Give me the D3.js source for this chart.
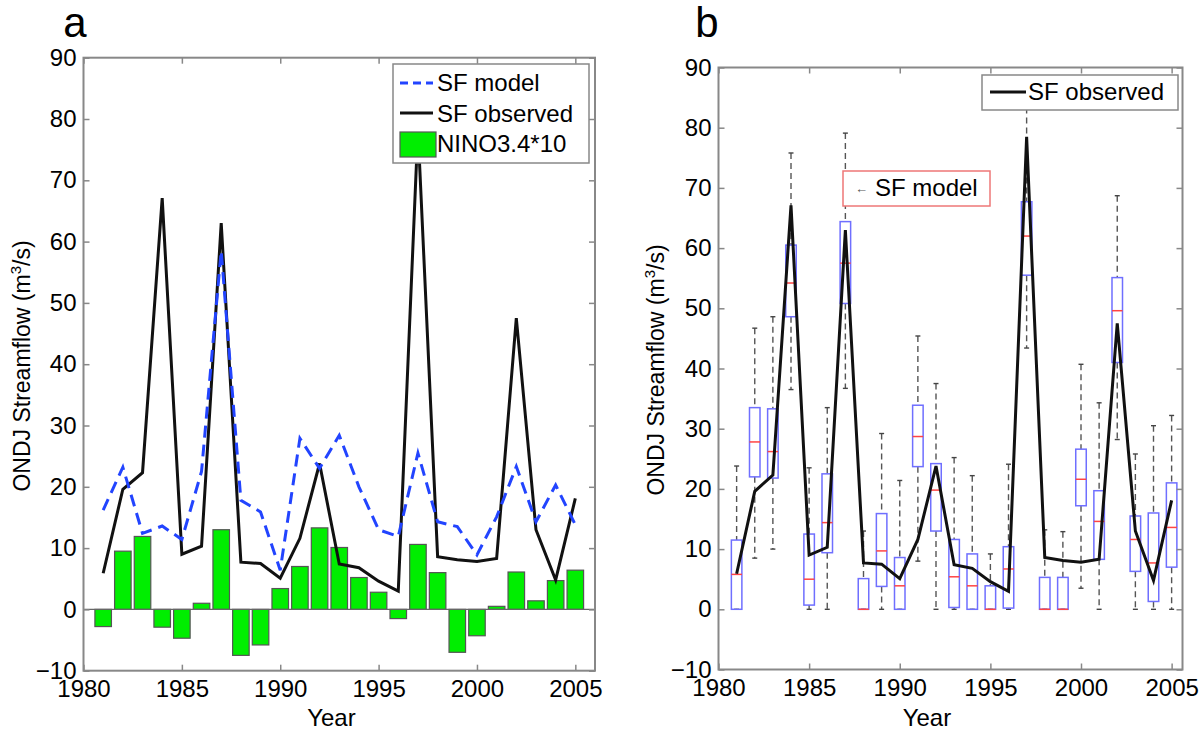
<!DOCTYPE html>
<html><head><meta charset="utf-8">
<script src="https://cdn.jsdelivr.net/npm/d3@7"></script>
<style>body{margin:0;background:#fff}svg{display:block;font-family:"Liberation Sans",Arial,Helvetica,sans-serif}</style>
</head><body><svg id="c" width="1200" height="734"></svg>
<script>
// ---------------- data ----------------
const years = [1981,1982,1983,1984,1985,1986,1987,1988,1989,1990,1991,1992,1993,1994,1995,1996,1997,1998,1999,2000,2001,2002,2003,2004,2005];
const sfObserved = [5.9,19.6,22.3,67.1,9.0,10.3,63.0,7.7,7.5,5.1,11.6,23.8,7.4,6.8,4.6,3.0,78.5,8.6,8.1,7.8,8.3,47.5,13.0,4.8,18.1];
const sfModel    = [16.2,23.2,12.4,13.6,11.4,22.5,58.5,17.8,15.9,6.4,27.9,23.0,28.4,20.0,13.0,11.9,25.5,14.3,13.5,8.9,15.1,23.3,14.3,20.3,13.8];
const nino34x10  = [-2.8,9.5,11.9,-2.9,-4.7,1.0,13.0,-7.5,-5.8,3.4,7.0,13.3,10.1,5.2,2.8,-1.5,10.6,6.0,-7.0,-4.3,0.5,6.1,1.4,4.7,6.4];
// panel b ensemble boxplots (SF model)
const boxQ1      = [0,22.0,21.8,48.6,0.7,9.4,50.8,0,3.8,0,23.7,13.0,0.3,0,0,0.2,55.5,0,0,17.2,8.3,41.0,6.3,1.3,7.0];
const boxMedian  = [5.8,27.8,26.2,54.2,5.0,14.4,57.5,0,9.7,3.9,28.7,19.8,5.4,3.9,0,6.7,62.0,0,0,21.6,14.6,49.6,11.6,7.7,13.6];
const boxQ3      = [11.5,33.5,33.3,60.5,12.5,22.5,64.4,5.1,15.9,8.6,33.9,24.2,11.6,9.2,3.9,10.4,67.7,5.3,5.3,26.6,19.7,55.1,15.5,16.0,21.0];
const whiskerLow = [0,8.5,10.0,36.5,0,0,36.7,0,0,0,8.0,0,0,0,0,0,43.4,0,0,3.5,0,28.2,0,0,0];
const whiskerHigh= [23.8,46.7,48.6,75.8,23.5,33.5,79.1,13.0,29.2,21.4,45.4,37.5,25.2,22.2,9.2,24.1,85.0,13.2,12.9,40.7,34.3,68.7,25.8,30.5,32.2];
const yTicks = [-10,0,10,20,30,40,50,60,70,80,90];
const xTicks = [1980,1985,1990,1995,2000,2005];
const legendA = ["SF model","SF observed","NINO3.4*10"];
const legendB = ["SF observed"];
const annotationB = "SF model";

// ---------------- drawing ----------------
const svg = d3.select("#c");
const FONT = 24;
const AXIS_COLOR = "#888";

function frame(g, x, y, xl, yl) {
  const [x0, x1] = x.range(), [y0, y1] = y.range();
  g.append("g").attr("transform", `translate(0,${y0})`)
    .call(d3.axisBottom(x).tickValues(xl).tickSize(-6).tickPadding(9).tickFormat(d3.format("d")))
    .call(s => s.select(".domain").remove());
  g.append("g").attr("transform", `translate(0,${y1})`)
    .call(d3.axisTop(x).tickValues(xl).tickSize(-6).tickFormat(""))
    .call(s => s.select(".domain").remove());
  g.append("g").attr("transform", `translate(${x0},0)`)
    .call(d3.axisLeft(y).tickValues(yl).tickSize(-6).tickPadding(7).tickFormat(d3.format("d")))
    .call(s => s.select(".domain").remove());
  g.append("g").attr("transform", `translate(${x1},0)`)
    .call(d3.axisRight(y).tickValues(yl).tickSize(-6).tickFormat(""))
    .call(s => s.select(".domain").remove());
  g.selectAll(".tick line").attr("stroke", AXIS_COLOR).attr("stroke-width", 1.5);
  g.selectAll(".tick text").attr("fill", "#000").style("font-size", FONT + "px")
    .style("font-family", '"Liberation Sans",Arial,sans-serif');
  g.append("rect").attr("x", x0).attr("y", y1).attr("width", x1 - x0).attr("height", y0 - y1)
    .attr("fill", "none").attr("stroke", AXIS_COLOR).attr("stroke-width", 2);
}

function yTitle(g, cx, cy) {
  const t = g.append("text").attr("transform", `translate(${cx},${cy}) rotate(-90)`)
    .attr("text-anchor", "middle").style("font-size", "23px").attr("fill", "#000");
  t.append("tspan").text("ONDJ Streamflow (m");
  t.append("tspan").text("3").attr("dy", -9).style("font-size", "15px");
  t.append("tspan").text("/s)").attr("dy", 9);
}

// ===== Panel a =====
const ga = svg.append("g");
const xa = d3.scaleLinear([1980, 2006], [83.5, 595]);
const ya = d3.scaleLinear([-10, 90], [670.7, 57.7]);
const bw = (xa(1980.84) - xa(1980));

ga.append("g").selectAll("rect").data(years).join("rect")
  .attr("x", (d) => xa(d) - bw / 2)
  .attr("width", bw)
  .attr("y", (d, i) => ya(Math.max(0, nino34x10[i])))
  .attr("height", (d, i) => Math.abs(ya(nino34x10[i]) - ya(0)))
  .attr("fill", "#00ee00").attr("stroke", "#555").attr("stroke-width", 1.2);
ga.append("line").attr("x1", xa.range()[0]).attr("x2", xa.range()[1])
  .attr("y1", ya(0)).attr("y2", ya(0)).attr("stroke", "#666").attr("stroke-width", 1.2);

const lineA = (vals) => d3.line().x((d, i) => xa(years[i])).y(d => ya(d))(vals);
ga.append("path").attr("d", lineA(sfObserved)).attr("fill", "none")
  .attr("stroke", "#111").attr("stroke-width", 3).attr("stroke-linejoin", "miter");
ga.append("path").attr("d", lineA(sfModel)).attr("fill", "none")
  .attr("stroke", "#2244ff").attr("stroke-width", 3).attr("stroke-dasharray", "12,7");

frame(ga, xa, ya, xTicks, yTicks);

// legend a
const la = ga.append("g");
la.append("rect").attr("x", 393).attr("y", 64).attr("width", 196).attr("height", 99)
  .attr("fill", "#fff").attr("stroke", AXIS_COLOR).attr("stroke-width", 1.5);
la.append("line").attr("x1", 400).attr("x2", 433).attr("y1", 83).attr("y2", 83)
  .attr("stroke", "#2244ff").attr("stroke-width", 3).attr("stroke-dasharray", "8,5");
la.append("line").attr("x1", 400).attr("x2", 433).attr("y1", 113).attr("y2", 113)
  .attr("stroke", "#111").attr("stroke-width", 3);
la.append("rect").attr("x", 400).attr("y", 132).attr("width", 36).attr("height", 25)
  .attr("fill", "#00ee00").attr("stroke", "#555").attr("stroke-width", 1.2);
legendA.forEach((t, i) => la.append("text").attr("x", 437).attr("y", 83 + i * 30.5)
  .attr("dy", "0.35em").style("font-size", FONT + "px").text(t));

yTitle(ga, 30, 366);
ga.append("text").attr("x", xa(1992.6)).attr("y", 726).attr("text-anchor", "middle")
  .style("font-size", FONT + "px").text("Year");
ga.append("text").attr("x", 75).attr("y", 37).attr("text-anchor", "middle")
  .style("font-size", "42px").text("a");

// ===== Panel b =====
const gb = svg.append("g");
const xb = d3.scaleLinear([1980, 2005.6], [718.5, 1182.5]);
const yb = d3.scaleLinear([-10, 90], [669.5, 67.5]);
const boxW = xb(1980.58) - xb(1980);
const capW = 5;

const bx = gb.append("g").selectAll("g").data(years).join("g");
// whiskers
bx.append("line").attr("x1", d => xb(d)).attr("x2", d => xb(d))
  .attr("y1", (d, i) => yb(whiskerHigh[i])).attr("y2", (d, i) => yb(boxQ3[i]))
  .attr("stroke", "#555").attr("stroke-width", 1.4).attr("stroke-dasharray", "6,4");
bx.append("line").attr("x1", d => xb(d)).attr("x2", d => xb(d))
  .attr("y1", (d, i) => yb(boxQ1[i])).attr("y2", (d, i) => yb(whiskerLow[i]))
  .attr("stroke", "#555").attr("stroke-width", 1.4).attr("stroke-dasharray", "6,4");
bx.append("line").attr("x1", d => xb(d) - capW / 2).attr("x2", d => xb(d) + capW / 2)
  .attr("y1", (d, i) => yb(whiskerHigh[i])).attr("y2", (d, i) => yb(whiskerHigh[i]))
  .attr("stroke", "#444").attr("stroke-width", 1.4);
bx.append("line").attr("x1", d => xb(d) - capW / 2).attr("x2", d => xb(d) + capW / 2)
  .attr("y1", (d, i) => yb(whiskerLow[i])).attr("y2", (d, i) => yb(whiskerLow[i]))
  .attr("stroke", "#444").attr("stroke-width", 1.4);
// boxes
bx.append("rect").attr("x", d => xb(d) - boxW / 2).attr("width", boxW)
  .attr("y", (d, i) => yb(boxQ3[i])).attr("height", (d, i) => yb(boxQ1[i]) - yb(boxQ3[i]))
  .attr("fill", "none").attr("stroke", "#6f6fff").attr("stroke-width", 1.5);
bx.append("line").attr("x1", d => xb(d) - boxW / 2).attr("x2", d => xb(d) + boxW / 2)
  .attr("y1", (d, i) => yb(boxMedian[i])).attr("y2", (d, i) => yb(boxMedian[i]))
  .attr("stroke", "#ff4444").attr("stroke-width", 1.5);

const lineB = (vals) => d3.line().x((d, i) => xb(years[i])).y(d => yb(d))(vals);
gb.append("path").attr("d", lineB(sfObserved)).attr("fill", "none")
  .attr("stroke", "#111").attr("stroke-width", 3);

frame(gb, xb, yb, xTicks, yTicks);

// legend b
const lb = gb.append("g");
lb.append("rect").attr("x", 982).attr("y", 75).attr("width", 196).attr("height", 35)
  .attr("fill", "#fff").attr("stroke", AXIS_COLOR).attr("stroke-width", 1.5);
lb.append("line").attr("x1", 990).attr("x2", 1026).attr("y1", 92).attr("y2", 92)
  .attr("stroke", "#111").attr("stroke-width", 3);
legendB.forEach((t, i) => lb.append("text").attr("x", 1028).attr("y", 92)
  .attr("dy", "0.35em").style("font-size", FONT + "px").text(t));

// SF model annotation
const an = gb.append("g");
an.append("rect").attr("x", 843).attr("y", 171).attr("width", 147).attr("height", 35)
  .attr("fill", "#fff").attr("stroke", "#ee7777").attr("stroke-width", 1.5);
an.append("text").attr("x", 855).attr("y", 188).attr("dy", "0.35em")
  .style("font-size", "13px").attr("fill", "#555").text("←");
an.append("text").attr("x", 875).attr("y", 188).attr("dy", "0.35em")
  .style("font-size", FONT + "px").text(annotationB);

yTitle(gb, 664, 370);
gb.append("text").attr("x", xb(1991.5)).attr("y", 726).attr("text-anchor", "middle")
  .style("font-size", FONT + "px").text("Year");
gb.append("text").attr("x", 707).attr("y", 37).attr("text-anchor", "middle")
  .style("font-size", "42px").text("b");
</script></body></html>
